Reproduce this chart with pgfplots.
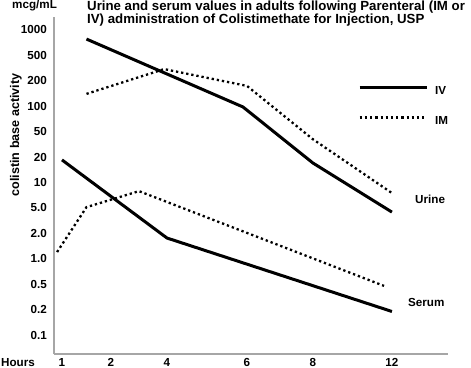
\documentclass[border=0pt]{standalone}
\usepackage{fontspec}
\setmainfont{Liberation Sans}
\usepackage{pgfplots}
\pgfplotsset{compat=1.18}
\begin{document}
\begin{tikzpicture}
\useasboundingbox (-54bp,-14bp) rectangle (417bp,354bp);
\begin{axis}[
  at={(0,0)}, anchor=south west,
  scale only axis, width=394bp, height=337bp,
  axis lines*=left,
  axis line style={draw=gray!70, line width=1.2bp},
  major tick length=0pt,
  x coord trafo/.code={%
    \begingroup\pgfkeys{/pgf/fpu=true,/pgf/fpu/output format=fixed}%
    \pgfmathparse{#1}\let\myX=\pgfmathresult
    \pgfmathparse{\myX<2 ? 62+(\myX-1)*49 : (\myX<4 ? 111+(\myX-2)*28 : (\myX<6 ? 167+(\myX-4)*40 : (\myX<8 ? 247+(\myX-6)*33 : 313+(\myX-8)*19.75)))}%
    \pgfmathsmuggle\pgfmathresult\endgroup},
  y coord trafo/.code={%
    \begingroup\pgfkeys{/pgf/fpu=true,/pgf/fpu/output format=fixed}%
    \pgfmathparse{log10(#1)}\let\myL=\pgfmathresult
    \pgfmathparse{floor(\myL)}\let\myD=\pgfmathresult
    \pgfmathparse{\myL-(\myD)}\let\myM=\pgfmathresult
    \pgfmathparse{3*(\myD)+(\myM<0.30103 ? \myM/0.30103 : (\myM<0.69897 ? 1+(\myM-0.30103)/0.39794 : 2+(\myM-0.69897)/0.30103))}%
    \pgfmathsmuggle\pgfmathresult\endgroup},
  xmin=0.837, xmax=14.84,
  ymin=0.0596, ymax=1424,
  xtick={1,2,4,6,8,12},
  xticklabels={1,2,4,6,8,12},
  ytick={0.1,0.2,0.5,1,2,5,10,20,50,100,200,500,1000},
  yticklabels={0.1,0.2,0.5,1.0,2.0,5.0,10,20,50,100,200,500,1000},
  tick label style={font=\fontsize{11.7}{12}\selectfont\bfseries, inner sep=0pt},
  xticklabel style={anchor=north, yshift=-3.8bp},
  yticklabel style={anchor=east, xshift=-7bp},
  legend style={draw=none, fill=none, inner sep=0pt, row sep=20bp, column sep=7bp,
    at={(axis description cs:0.7716,0.7955)}, anchor=north west,
    font=\fontsize{11.7}{12}\selectfont\bfseries,
    nodes={inner sep=0pt}},
  legend cell align=left,
  legend image code/.code={\draw[#1] (0bp,4.1bp) -- (67bp,4.1bp);},
  solidline/.style={black, line width=3bp, line join=round},
  dotline/.style={black, line width=2.3bp, dash pattern=on 2.3bp off 2.9bp},
]
% Urine IV
\addplot[solidline] coordinates {(1.5,780) (5.9,98) (8,17) (12,4.3)};
\addlegendentry{IV}
% Urine IM
\addplot[dotline] coordinates {(1.5,140) (3.9,305) (6,174) (8,38) (12,7.5)};
\addlegendentry{IM}
% Serum IV
\addplot[solidline, forget plot] coordinates {(1,18.5) (4,1.76) (12,0.19)};
% Serum IM
\addplot[dotline, forget plot] coordinates {(0.9,1.2) (1.5,5.1) (3,7.9) (11.6,0.47)};
\end{axis}
\begin{scope}[every node/.style={inner sep=0pt}]
\node[anchor=base west, font=\fontsize{13.3}{14}\selectfont\bfseries] at (33bp,343bp) {Urine and serum values in adults following Parenteral (IM or};
\node[anchor=base west, font=\fontsize{13.3}{14}\selectfont\bfseries] at (33bp,330.5bp) {IV) administration of Colistimethate for Injection, USP};
\node[anchor=base west, font=\fontsize{11.7}{12}\selectfont\bfseries] at (-42bp,345bp) {mcg/mL};
\node[anchor=base, rotate=90, font=\fontsize{12.6}{13}\selectfont\bfseries] at (-35bp,219bp) {colistin base activity};
\node[anchor=base west, font=\fontsize{11.7}{12}\selectfont\bfseries] at (-53bp,-12bp) {Hours};
\node[anchor=base west, font=\fontsize{11.7}{12}\selectfont\bfseries] at (361bp,150bp) {Urine};
\node[anchor=base west, font=\fontsize{11.7}{12}\selectfont\bfseries] at (354bp,47bp) {Serum};
\end{scope}
\end{tikzpicture}
\end{document}
